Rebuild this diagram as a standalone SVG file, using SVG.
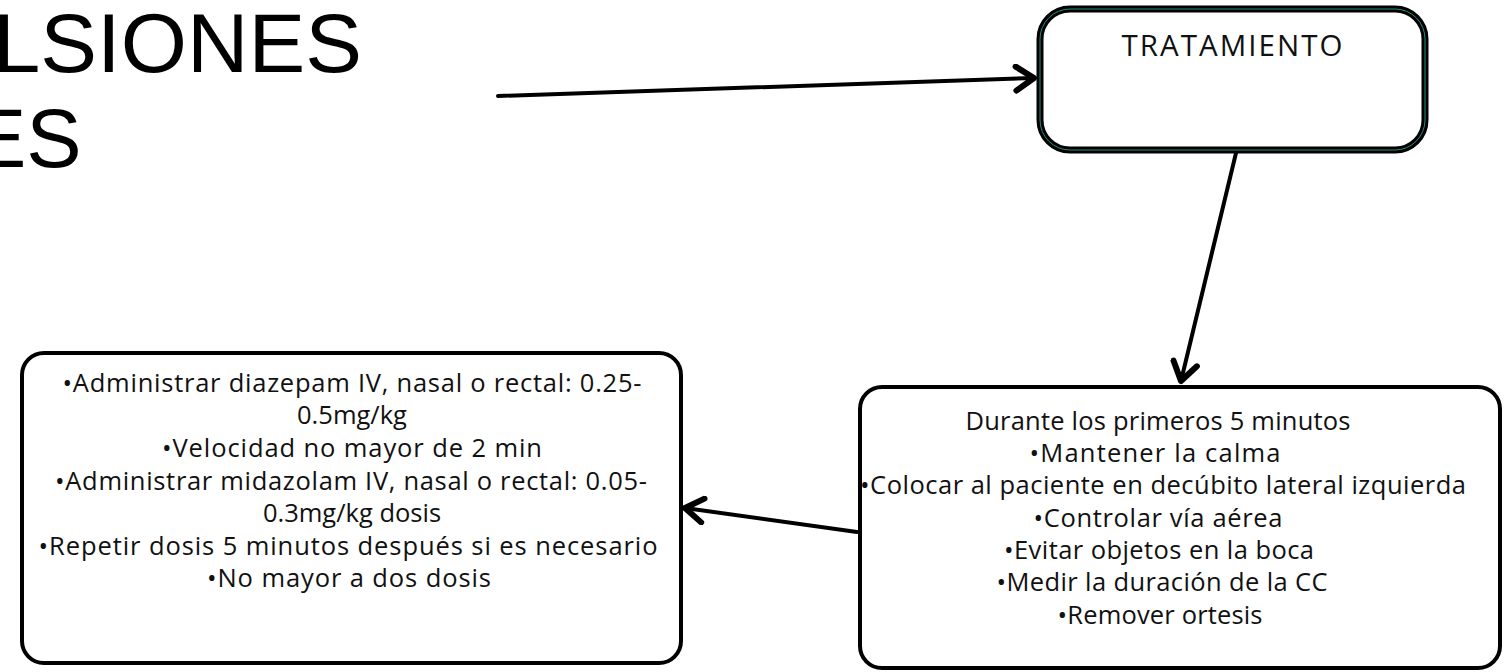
<svg xmlns="http://www.w3.org/2000/svg" width="1508" height="672" viewBox="0 0 1508 672">
<defs>
<style>
.title{font-family:"Liberation Sans","Open Sans",sans-serif;font-size:83px;fill:#000;}
.box{fill:#fff;stroke:#000;stroke-width:4;}
.t{font-family:"Open Sans","Noto Sans",sans-serif;font-size:25.5px;fill:#111;text-anchor:middle;}
.conn{stroke:#000;stroke-width:4;fill:none;stroke-linecap:round;}
</style>
<marker id="arr" markerUnits="userSpaceOnUse" markerWidth="30" markerHeight="30" viewBox="-16 -10 20 20" refX="0" refY="0" orient="auto">
<path d="M-12,-8 L0,0 L-12,8" fill="none" stroke="#000" stroke-width="4" stroke-linecap="round" stroke-linejoin="round"/>
</marker>
</defs>
<rect width="1508" height="672" fill="#fff"/>
<g id="title">
<text class="title" x="-7" y="72" textLength="369" lengthAdjust="spacingAndGlyphs">LSIONES</text>
<text class="title" x="-29" y="167">ES</text>
</g>
<g id="connectors">
<line class="conn" x1="498" y1="96" x2="1034" y2="78" marker-end="url(#arr)"/>
<line class="conn" x1="1236" y1="153" x2="1181" y2="381" marker-end="url(#arr)"/>
<line class="conn" x1="857" y1="532" x2="685" y2="508" marker-end="url(#arr)"/>
</g>
<g id="tratamiento">
<rect x="1040" y="9" width="385" height="141" rx="30" fill="#fff" stroke="#000" stroke-width="7"/>
<rect x="1040" y="9" width="385" height="141" rx="30" fill="none" stroke="#2a9d8f" stroke-width="0.9"/>
<text x="1232" y="56" font-family="'Open Sans','Noto Sans',sans-serif" font-size="29.5" fill="#111" text-anchor="middle" textLength="221">TRATAMIENTO</text>
</g>
<g id="primeros-minutos">
<rect class="box" x="860" y="387" width="640" height="281" rx="22"/>
<text class="t" x="1158" y="430" textLength="385">Durante los primeros 5 minutos</text>
<text class="t" x="1155" y="462" textLength="251">•Mantener la calma</text>
<text class="t" x="1163" y="494" textLength="606">•Colocar al paciente en decúbito lateral izquierda</text>
<text class="t" x="1158" y="527" textLength="249">•Controlar vía aérea</text>
<text class="t" x="1159" y="559" textLength="310">•Evitar objetos en la boca</text>
<text class="t" x="1162" y="591" textLength="331">•Medir la duración de la CC</text>
<text class="t" x="1160" y="624" textLength="205">•Remover ortesis</text>
</g>
<g id="medicacion">
<rect class="box" x="22" y="353" width="659" height="310" rx="22"/>
<text class="t" x="352" y="392" textLength="579">•Administrar diazepam IV, nasal o rectal: 0.25-</text>
<text class="t" x="352" y="424">0.5mg/kg</text>
<text class="t" x="352" y="457" textLength="380">•Velocidad no mayor de 2 min</text>
<text class="t" x="351" y="490" textLength="592">•Administrar midazolam IV, nasal o rectal: 0.05-</text>
<text class="t" x="352" y="522">0.3mg/kg dosis</text>
<text class="t" x="348" y="555" textLength="619">•Repetir dosis 5 minutos después si es necesario</text>
<text class="t" x="349" y="587" textLength="284">•No mayor a dos dosis</text>
</g>
</svg>
